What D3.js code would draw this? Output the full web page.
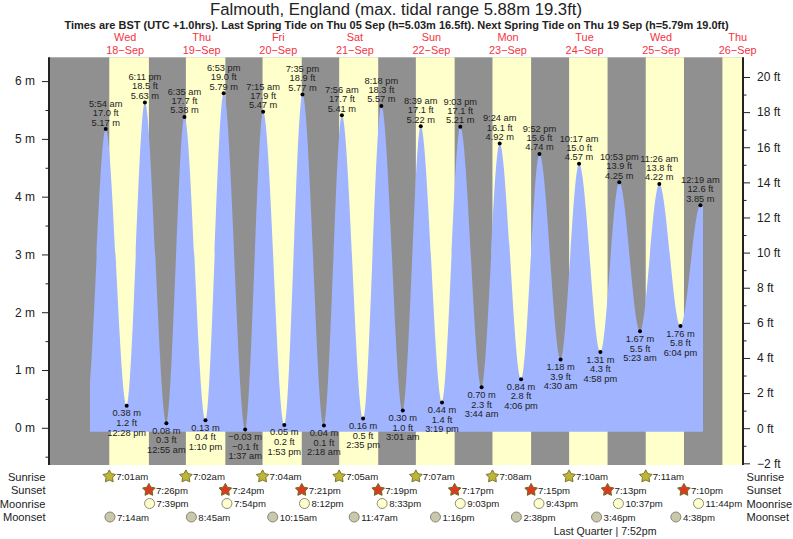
<!DOCTYPE html>
<html>
<head>
<meta charset="utf-8">
<script src="https://cdn.jsdelivr.net/npm/d3@7"></script>
<style>
html,body{margin:0;padding:0;background:#fff;}
svg{display:block;}
text{font-family:"Liberation Sans",Arial,sans-serif;fill:#222;}
</style>
</head>
<body>
<svg id="chart" width="793" height="539"></svg>
<script>
const titleText = "Falmouth, England (max. tidal range 5.88m 19.3ft)";
const subtitleText = "Times are BST (UTC +1.0hrs). Last Spring Tide on Thu 05 Sep (h=5.03m 16.5ft). Next Spring Tide on Thu 19 Sep (h=5.79m 19.0ft)";

const dayNames = ["Wed","Thu","Fri","Sat","Sun","Mon","Tue","Wed","Thu"];
const dayDates = ["09-18","09-19","09-20","09-21","09-22","09-23","09-24","09-25","09-26"];
const dayLabels = ["18−Sep","19−Sep","20−Sep","21−Sep","22−Sep","23−Sep","24−Sep","25−Sep","26−Sep"];

const tideTimes = [
 "09-18 5:54 am","09-18 12:28 pm","09-18 6:11 pm",
 "09-19 12:55 am","09-19 6:35 am","09-19 1:10 pm","09-19 6:53 pm",
 "09-20 1:37 am","09-20 7:15 am","09-20 1:53 pm","09-20 7:35 pm",
 "09-21 2:18 am","09-21 7:56 am","09-21 2:35 pm","09-21 8:18 pm",
 "09-22 3:01 am","09-22 8:39 am","09-22 3:19 pm","09-22 9:03 pm",
 "09-23 3:44 am","09-23 9:24 am","09-23 4:06 pm","09-23 9:52 pm",
 "09-24 4:30 am","09-24 10:17 am","09-24 4:58 pm","09-24 10:53 pm",
 "09-25 5:23 am","09-25 11:26 am","09-25 6:04 pm",
 "09-26 12:19 am"];
const tideMetres = [
 5.17,0.38,5.63,
 0.08,5.38,0.13,5.79,
 -0.03,5.47,0.05,5.77,
 0.04,5.41,0.16,5.57,
 0.30,5.22,0.44,5.21,
 0.70,4.92,0.84,4.74,
 1.18,4.57,1.31,4.25,
 1.67,4.22,1.76,
 3.85];
const tideFeet = [
 17.0,1.2,18.5,
 0.3,17.7,0.4,19.0,
 -0.1,17.9,0.2,18.9,
 0.1,17.7,0.5,18.3,
 1.0,17.1,1.4,17.1,
 2.3,16.1,2.8,15.6,
 3.9,15.0,4.3,13.9,
 5.5,13.8,5.8,
 12.6];
// the drawn curve begins and ends just beyond the first and last labelled tides
const curveLeadTimes = ["09-17 5:30 pm","09-17 11:52 pm"], curveLeadMetres = [5.3,0.38];
const curveTailTime = "09-26 1:08 am", curveTailMetres = 3.82;
const curveStartTime = "09-18 12:58 am";
const curveBaseMetres = -0.07;

const sunriseTimes = ["09-18 7:01am","09-19 7:02am","09-20 7:04am","09-21 7:05am","09-22 7:07am","09-23 7:08am","09-24 7:10am","09-25 7:11am"];
const sunsetTimes = ["09-18 7:26pm","09-19 7:24pm","09-20 7:21pm","09-21 7:19pm","09-22 7:17pm","09-23 7:15pm","09-24 7:13pm","09-25 7:10pm"];
const moonriseTimes = ["09-18 7:39pm","09-19 7:54pm","09-20 8:12pm","09-21 8:33pm","09-22 9:03pm","09-23 9:43pm","09-24 10:37pm","09-25 11:44pm"];
const moonsetTimes = ["09-18 7:14am","09-19 8:45am","09-20 10:15am","09-21 11:47am","09-22 1:16pm","09-23 2:38pm","09-24 3:46pm","09-25 4:38pm"];
const lastSunriseTime = "09-26 7:13am";
const moonPhaseText = "Last Quarter | 7:52pm";
const moonPhaseTime = "09-24 7:52pm";

const metreTicks = [0,1,2,3,4,5,6];
const metreMinorTicks = [-0.5,0.5,1.5,2.5,3.5,4.5,5.5];
const feetTicks = [-2,0,2,4,6,8,10,12,14,16,18,20];
const feetMinorTicks = [-1,1,3,5,7,9,11,13,15,17,19];

// ---------- layout ----------
const plotLeft = 49.5, plotRight = 743, plotTop = 57.3, plotBottom = 465;
const rowY = {sunrise:476.5, sunset:490, moonrise:503.5, moonset:517, phase:531};
const colors = {night:"#909090", day:"#ffffcb", water:"#a0b4ff", date:"#f5333f", ink:"#222"};

const parseTide = d3.utcParse("%m-%d %I:%M %p");
const parseEvent = d3.utcParse("%m-%d %I:%M%p");
const parseDay = d3.utcParse("%m-%d");

const x = d3.scaleUtc().domain([parseDay("09-18"), parseDay("09-26")]).range([86.9, 699.38]);
const yM = d3.scaleLinear().domain([0,6]).range([427.8,81.1]);
const yF = d3.scaleLinear().domain([0,20]).range([428.2,77]);

const svg = d3.select("#chart");

// ---------- day / night bands ----------
svg.append("rect").attr("x",plotLeft).attr("y",plotTop).attr("width",plotRight-plotLeft).attr("height",plotBottom-plotTop).attr("fill",colors.night);
const bandStarts = sunriseTimes.map(parseEvent);
const bandEnds = sunsetTimes.map(parseEvent);
const dayBands = bandStarts.map((s,i)=>[s,bandEnds[i]]);
svg.append("g").selectAll("rect").data(dayBands).join("rect")
  .attr("x",d=>x(d[0])).attr("y",plotTop)
  .attr("width",d=>x(d[1])-x(d[0])).attr("height",plotBottom-plotTop)
  .attr("fill",colors.day);
svg.append("rect").attr("x",x(parseEvent(lastSunriseTime))).attr("y",plotTop)
  .attr("width",plotRight-x(parseEvent(lastSunriseTime))).attr("height",plotBottom-plotTop).attr("fill",colors.day);

// ---------- tide ----------
const tides = tideTimes.map((t,i)=>({t:parseTide(t),label:t.slice(6),m:tideMetres[i],ft:tideFeet[i]}));
const curvePts = [...curveLeadTimes.map((t,i)=>({t:parseTide(t),m:curveLeadMetres[i]})),...tides,{t:parseTide(curveTailTime),m:curveTailMetres}];
svg.append("clipPath").attr("id","tideClip").append("rect")
  .attr("x",x(parseTide(curveStartTime))).attr("y",plotTop)
  .attr("width",plotRight-x(parseTide(curveStartTime))).attr("height",plotBottom-plotTop);
const area = d3.area().x(d=>x(d.t)).y0(yM(curveBaseMetres)).y1(d=>yM(d.m)).curve(d3.curveMonotoneX);
svg.append("path").datum(curvePts).attr("d",area).attr("fill",colors.water).attr("clip-path","url(#tideClip)");

// ---------- axes ----------
function styleAxis(g){
  g.select(".domain").remove();
  g.selectAll("line").attr("stroke",colors.ink).attr("stroke-width",1);
}
const axisL = svg.append("g").attr("transform",`translate(${plotLeft-0.5},0)`)
  .call(d3.axisLeft(yM).tickValues(metreTicks).tickSize(7).tickPadding(7).tickFormat(d=>d+" m"));
axisL.call(styleAxis);
axisL.selectAll("text").attr("font-size",12).attr("fill","#222");
svg.append("g").attr("transform",`translate(${plotLeft-0.5},0)`)
  .call(d3.axisLeft(yM).tickValues(metreMinorTicks).tickSize(3.5).tickFormat("")).call(styleAxis);
const axisR = svg.append("g").attr("transform",`translate(${plotRight},0)`)
  .call(d3.axisRight(yF).tickValues(feetTicks).tickSize(7).tickPadding(7).tickFormat(d=>(d<0?"−"+(-d):d)+" ft"));
axisR.call(styleAxis);
axisR.selectAll("text").attr("font-size",12).attr("fill","#222");
svg.append("g").attr("transform",`translate(${plotRight},0)`)
  .call(d3.axisRight(yF).tickValues(feetMinorTicks).tickSize(3.5).tickFormat("")).call(styleAxis);
svg.append("line").attr("x1",plotLeft-0.5).attr("x2",plotLeft-0.5).attr("y1",plotTop).attr("y2",plotBottom).attr("stroke",colors.ink).attr("stroke-width",2);
svg.append("line").attr("x1",plotRight).attr("x2",plotRight).attr("y1",plotTop).attr("y2",plotBottom).attr("stroke",colors.ink).attr("stroke-width",2);

// ---------- tide markers & labels ----------
const isHigh = (d,i)=> d.m > (tides[i+1] ? tides[i+1].m : (tides[i-1].m));
const highOffsets = [-25.2,-16,-6.5], lowOffsets = [7.5,17.2,26.7];
const fmtFt = v => (v<0?"−":"")+Math.abs(v).toFixed(1)+" ft";
const fmtM = v => (v<0?"−":"")+Math.abs(v).toFixed(2)+" m";
const marks = svg.append("g");
marks.selectAll("circle").data(tides).join("circle")
  .attr("cx",d=>x(d.t)).attr("cy",d=>yM(d.m)).attr("r",2).attr("fill","#000");
tides.forEach((d,i)=>{
  const high = isHigh(d,i);
  const lines = high ? [d.label,fmtFt(d.ft),fmtM(d.m)] : [fmtM(d.m),fmtFt(d.ft),d.label];
  const offs = high ? highOffsets : lowOffsets;
  lines.forEach((s,k)=>{
    marks.append("text").attr("x",x(d.t)).attr("y",yM(d.m)+offs[k])
      .attr("text-anchor","middle").attr("dominant-baseline","central")
      .attr("font-size",9.3).text(s);
  });
});

// ---------- titles ----------
svg.append("text").attr("x",396).attr("y",14.5).attr("text-anchor","middle").attr("font-size",16.7).text(titleText);
svg.append("text").attr("x",396.5).attr("y",29).attr("text-anchor","middle").attr("font-size",10.97).attr("font-weight","bold").attr("fill","#111").text(subtitleText);
const dayG = svg.append("g");
dayDates.forEach((d,i)=>{
  const cx = x(d3.utcHour.offset(parseDay(d),12));
  dayG.append("text").attr("x",cx).attr("y",41).attr("text-anchor","middle").attr("font-size",10.9).style("fill",colors.date).text(dayNames[i]);
  dayG.append("text").attr("x",cx).attr("y",54).attr("text-anchor","middle").attr("font-size",10.9).style("fill",colors.date).text(dayLabels[i]);
});

// ---------- sun & moon rows ----------
const rowLabels = [["Sunrise",rowY.sunrise],["Sunset",rowY.sunset],["Moonrise",rowY.moonrise],["Moonset",rowY.moonset]];
const rows = svg.append("g");
rowLabels.forEach(([s,y])=>{
  rows.append("text").attr("x",45.5).attr("y",y).attr("text-anchor","end").attr("dominant-baseline","central").attr("font-size",11.1).text(s);
  rows.append("text").attr("x",746.5).attr("y",y).attr("dominant-baseline","central").attr("font-size",11.1).text(s);
});
// fat five-pointed sun marker, drawn with d3's radial line generator
const starRadii = [6.6,3.5];
const star = d3.lineRadial().curve(d3.curveLinearClosed)
  .angle((d,i)=>i*Math.PI/5).radius((d,i)=>starRadii[i%2]);
const starPath = star(d3.range(10));
function eventRow(list,y,draw){
  list.forEach(s=>{
    const px = x(parseEvent(s));
    draw(px,y);
    rows.append("text").attr("x",px+7).attr("y",y).attr("dominant-baseline","central").attr("font-size",9.6).text(s.slice(6));
  });
}
eventRow(sunriseTimes,rowY.sunrise,(px,y)=>rows.append("path").attr("d",starPath).attr("transform",`translate(${px},${y})`).attr("fill","#bdb536").attr("stroke","#7b7430").attr("stroke-width",1));
eventRow(sunsetTimes,rowY.sunset,(px,y)=>rows.append("path").attr("d",starPath).attr("transform",`translate(${px},${y})`).attr("fill","#dc3a1e").attr("stroke","#6f6a25").attr("stroke-width",1));
eventRow(moonriseTimes,rowY.moonrise,(px,y)=>rows.append("circle").attr("cx",px).attr("cy",y).attr("r",5).attr("fill","#ffffcb").attr("stroke","#8a8a7a").attr("stroke-width",1));
eventRow(moonsetTimes,rowY.moonset,(px,y)=>rows.append("circle").attr("cx",px).attr("cy",y).attr("r",5).attr("fill","#c9c8ab").attr("stroke","#85857a").attr("stroke-width",1));
rows.append("text").attr("x",x(parseEvent(moonPhaseTime))-56).attr("y",rowY.phase).attr("dominant-baseline","central").attr("font-size",10.6).text(moonPhaseText);
</script>
</body>
</html>
